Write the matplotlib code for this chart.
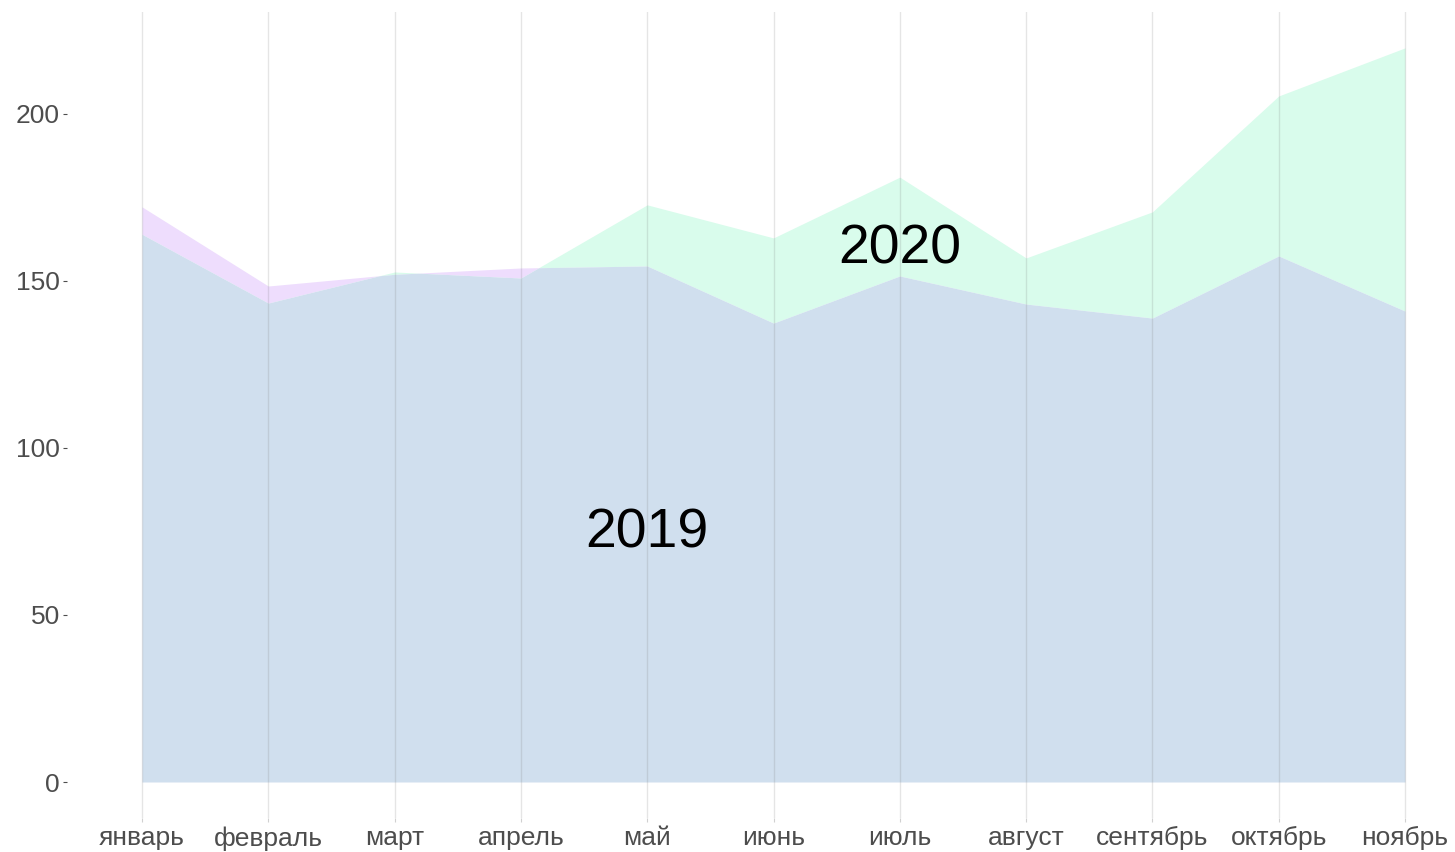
import numpy as np
import matplotlib
matplotlib.use("Agg")
import matplotlib.pyplot as plt

months = ["январь", "февраль", "март", "апрель", "май", "июнь",
          "июль", "август", "сентябрь", "октябрь", "ноябрь"]
values_2019 = [172.2, 148.5, 152.0, 153.9, 154.5, 137.4, 151.5, 143.1, 138.9, 157.5, 141.0]
values_2020 = [164.0, 143.4, 152.7, 150.9, 172.8, 162.9, 181.1, 156.9, 170.7, 205.4, 219.8]
yticks = [0, 50, 100, 150, 200]

plt.rcParams['font.family'] = ['Liberation Sans', 'DejaVu Sans']

fig = plt.figure(figsize=(14.55, 8.52), dpi=100)
W, H = 1455, 852
ax = fig.add_axes([67 / W, 1 - 818 / H, (1450 - 67) / W, (818 - 12) / H])

x = np.arange(1, len(months) + 1, dtype=float)
a = np.array(values_2019, dtype=float)
b = np.array(values_2020, dtype=float)

# add crossing points of the two polylines so the overlap is drawn exactly
xs, as_, bs = [x[0]], [a[0]], [b[0]]
for i in range(len(x) - 1):
    d0 = a[i] - b[i]
    d1 = a[i + 1] - b[i + 1]
    if d0 * d1 < 0:
        t = d0 / (d0 - d1)
        xs.append(x[i] + t * (x[i + 1] - x[i]))
        as_.append(a[i] + t * (a[i + 1] - a[i]))
        bs.append(b[i] + t * (b[i + 1] - b[i]))
    xs.append(x[i + 1]); as_.append(a[i + 1]); bs.append(b[i + 1])
xs = np.array(xs); as_ = np.array(as_); bs = np.array(bs)
lo = np.minimum(as_, bs)

c19 = "#EEDDFD"
c20 = "#D9FCEC"
cov = "#D0DFEE"

ax.fill_between(xs, lo, as_, color=c19, lw=0, zorder=1)
ax.fill_between(xs, lo, bs, color=c20, lw=0, zorder=1)
ax.fill_between(xs, 0, lo, color=cov, lw=0, zorder=2)

for xi in x:
    ax.axvline(xi, color=(0.45, 0.45, 0.45, 0.18), lw=1.0, zorder=3)

ax.text(5, 74.5, "2019", fontsize=40, ha="center", va="center", color="black", zorder=4)
ax.text(7, 159.3, "2020", fontsize=40, ha="center", va="center", color="black", zorder=4)

unit = (1405 - 142) / 10
ax.set_xlim(1 - (142 - 67) / unit, 11 + (1450 - 1405) / unit)
ppu = (782 - 114) / 200
ax.set_ylim(-(818 - 782) / ppu, (782 - 12) / ppu)

ax.set_xticks(x)
ax.set_xticklabels(months)
ax.set_yticks(yticks)
ax.set_yticklabels([str(v) for v in yticks])
ax.tick_params(axis="both", labelsize=19, length=3, width=0.8)
ax.tick_params(axis="x", pad=3, colors="#D0D0D0", labelcolor="#4D4D4D")
ax.tick_params(axis="y", pad=2, colors="#4D4D4D", labelcolor="#4D4D4D")
for s in ax.spines.values():
    s.set_visible(False)
ax.grid(False)

fig.savefig("out.png", dpi=100)
